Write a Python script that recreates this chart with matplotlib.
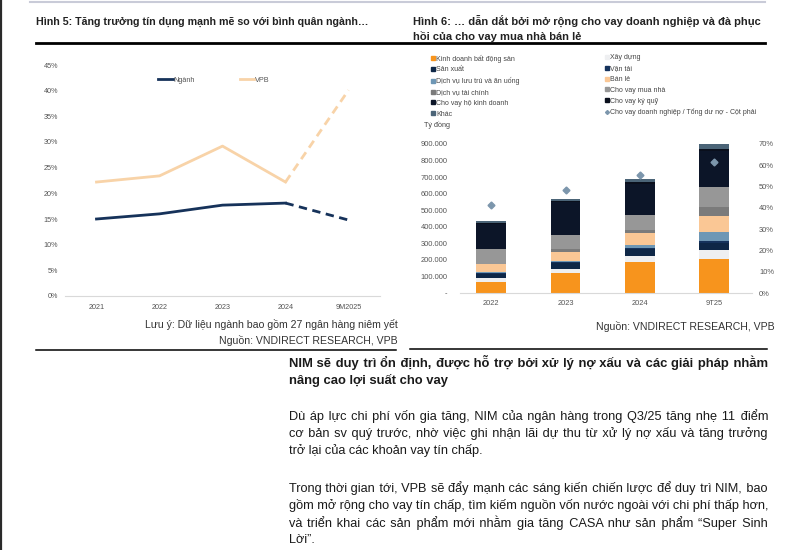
import numpy as np
import matplotlib
matplotlib.use("Agg")
import matplotlib.pyplot as plt
from matplotlib.lines import Line2D
from matplotlib.ticker import FuncFormatter

plt.rcParams['font.family'] = ['Liberation Sans', 'DejaVu Sans']

# ---- Hình 5 data (% tăng trưởng tín dụng)
years5 = ["2021", "2022", "2023", "2024", "9M2025"]
nganh = [15.0, 16.0, 17.7, 18.1, 14.8]
vpb = [22.2, 23.4, 29.2, 22.2, 40.1]

# ---- Hình 6 data (tỷ đồng)
years6 = ["2022", "2023", "2024", "9T25"]
seg_names = ["Kinh doanh bất động sản", "Xây dựng", "Sản xuất", "Vận tải",
             "Dịch vụ lưu trú và ăn uống", "Bán lẻ", "Dịch vụ tài chính",
             "Cho vay mua nhà", "Cho vay hộ kinh doanh", "Cho vay ký quỹ", "Khác"]
seg_vals = [
    [68000, 119000, 189000, 204000],   # Kinh doanh BĐS
    [20000, 28000, 36000, 56000],      # Xây dựng
    [28000, 32000, 40000, 44000],      # Sản xuất
    [6000, 8000, 8000, 10000],         # Vận tải
    [6000, 8000, 16000, 54000],        # Dịch vụ lưu trú và ăn uống
    [46000, 54000, 73000, 98000],      # Bán lẻ
    [4000, 18000, 16000, 54000],       # Dịch vụ tài chính
    [86000, 85000, 92000, 121000],     # Cho vay mua nhà
    [155000, 195000, 191000, 216000],  # Cho vay hộ kinh doanh
    [5000, 10000, 10000, 12000],       # Cho vay ký quỹ
    [9000, 12000, 20000, 28000],       # Khác
]
seg_colors = ["#F7941D", "#EEEFF1", "#0E2747", "#15325C", "#6E97B5", "#FAC795",
              "#7B7B7B", "#979797", "#0C1528", "#0A0F1C", "#4B6477"]
corp_share = [41.3, 48.2, 55.4, 61.7]

# ---- text block
heading = ["NIM sẽ duy trì ổn định, được hỗ trợ bởi xử lý nợ xấu và các giải pháp nhằm",
           "nâng cao lợi suất cho vay"]
para1 = ["Dù áp lực chi phí vốn gia tăng, NIM của ngân hàng trong Q3/25 tăng nhẹ 11 điểm",
         "cơ bản sv quý trước, nhờ việc ghi nhận lãi dự thu từ xử lý nợ xấu và tăng trưởng",
         "trở lại của các khoản vay tín chấp."]
para2 = ["Trong thời gian tới, VPB sẽ đẩy mạnh các sáng kiến chiến lược để duy trì NIM, bao",
         "gồm mở rộng cho vay tín chấp, tìm kiếm nguồn vốn nước ngoài với chi phí thấp hơn,",
         "và triển khai các sản phẩm mới nhằm gia tăng CASA như sản phẩm “Super Sinh",
         "Lời”."]

W, H = 791, 550
fig = plt.figure(figsize=(W / 100, H / 100), dpi=100)
fig.patch.set_facecolor("white")


def fx(px):
    return px / W


def fy(py):
    return 1 - py / H


# decorations: frame lines
fig.add_artist(Line2D([fx(1), fx(1)], [0, 1], color="#2a2a2a", lw=1.6))
fig.add_artist(Line2D([fx(30), fx(765)], [fy(2), fy(2)], color="#C9CBD8", lw=1.5))
fig.add_artist(Line2D([fx(36), fx(765)], [fy(43), fy(43)], color="black", lw=2.0))
fig.add_artist(Line2D([fx(36), fx(396)], [fy(350), fy(350)], color="black", lw=1.1))
fig.add_artist(Line2D([fx(410), fx(767)], [fy(349), fy(349)], color="black", lw=1.1))

# titles
fig.text(fx(36), fy(22), "Hình 5: Tăng trưởng tín dụng mạnh mẽ so với bình quân ngành…",
         fontsize=7.7, fontweight="bold", color="#222222", va="center", ha="left")
fig.text(fx(413), fy(21), "Hình 6: … dẫn dắt bởi mở rộng cho vay doanh nghiệp và đà phục",
         fontsize=8.0, fontweight="bold", color="#222222", va="center", ha="left")
fig.text(fx(413), fy(37), "hồi của cho vay mua nhà bán lẻ",
         fontsize=8.0, fontweight="bold", color="#222222", va="center", ha="left")

# ---------------- Left chart ----------------
ax1 = fig.add_axes([fx(65), fy(296), fx(380) - fx(65), fy(65) - fy(296)])
x5 = np.arange(len(years5))
c_ng = "#16325A"
c_vp = "#F8D3A8"
ax1.plot(x5[:4], nganh[:4], color=c_ng, lw=2.0, label="Ngành")
ax1.plot(x5[3:], nganh[3:], color=c_ng, lw=2.0, ls=(0, (3, 2)))
ax1.plot(x5[:4], vpb[:4], color=c_vp, lw=2.0, label="VPB")
ax1.plot(x5[3:], vpb[3:], color=c_vp, lw=2.0, ls=(0, (3, 2)))
ax1.set_xlim(-0.5, 4.5)
ax1.set_ylim(0, 45)
ax1.set_yticks(np.arange(0, 46, 5))
ax1.yaxis.set_major_formatter(FuncFormatter(lambda v, p: f"{v:.0f}%"))
ax1.set_xticks(x5)
ax1.set_xticklabels(years5)
for s in ["top", "right", "left"]:
    ax1.spines[s].set_visible(False)
ax1.spines["bottom"].set_color("#D9D9D9")
ax1.tick_params(axis="both", length=0, labelsize=5.2, colors="#555555")
ax1.tick_params(axis="y", pad=5)
ax1.tick_params(axis="x", pad=6)
ax1.legend(loc="center", bbox_to_anchor=(0.473, 0.935), ncol=2, frameon=False,
           fontsize=5.2, handlelength=2.0, handletextpad=0.1, columnspacing=6.2,
           labelcolor="#555555")

fig.text(fx(398), fy(325), "Lưu ý: Dữ liệu ngành bao gồm 27 ngân hàng niêm yết",
         fontsize=7.6, color="#333333", ha="right", va="center")
fig.text(fx(398), fy(340), "Nguồn: VNDIRECT RESEARCH, VPB",
         fontsize=7.6, color="#333333", ha="right", va="center")

# ---------------- Right chart ----------------
ax2 = fig.add_axes([fx(460), fy(293), fx(752) - fx(460), fy(144) - fy(293)])
x6 = np.arange(len(years6))
bottom = np.zeros(len(years6))
handles = []
for name, vals, col in zip(seg_names, seg_vals, seg_colors):
    ax2.bar(x6, vals, 0.4, bottom=bottom, color=col, label=name)
    bottom += np.array(vals)
    handles.append(Line2D([], [], ls="", marker="s", markersize=3.0, color=col, label=name))
ax2.set_xlim(-0.42, 3.51)
ax2.set_ylim(0, 900000)
ax2.set_yticks(np.arange(0, 900001, 100000))
ax2.yaxis.set_major_formatter(FuncFormatter(
    lambda v, p: "-" if v == 0 else f"{v:,.0f}".replace(",", ".")))
ax2.set_xticks(x6)
ax2.set_xticklabels(years6)
for s in ["top", "right", "left"]:
    ax2.spines[s].set_visible(False)
ax2.spines["bottom"].set_color("#D9D9D9")
ax2.tick_params(axis="both", length=0, labelsize=5.4, colors="#555555")
ax2.tick_params(axis="y", pad=9)
ax2.tick_params(axis="x", pad=5)

ax3 = ax2.twinx()
ax3.plot(x6, corp_share, ls="", marker="D", markersize=3.5, color="#7C96AC")
ax3.set_ylim(0, 70)
ax3.set_yticks(np.arange(0, 71, 10))
ax3.yaxis.set_major_formatter(FuncFormatter(lambda v, p: f"{v:.0f}%"))
for s in ["top", "right", "left", "bottom"]:
    ax3.spines[s].set_visible(False)
ax3.tick_params(axis="y", length=0, labelsize=5.4, colors="#555555", pad=5)

share_handle = Line2D([], [], ls="", marker="D", markersize=2.0, color="#7C96AC",
                      label="Cho vay doanh nghiệp / Tổng dư nợ - Cột phải")
col1 = [handles[i] for i in (0, 2, 4, 6, 8, 10)]
col2 = [handles[i] for i in (1, 3, 5, 7, 9)] + [share_handle]
leg_kw = dict(frameon=False, fontsize=5.0, handlelength=0.6, handletextpad=0.2,
              labelspacing=0.55, borderpad=0, labelcolor="#444444")
fig.legend(handles=col1, loc="upper left", bbox_to_anchor=(fx(427), fy(51)), **leg_kw)
fig.legend(handles=col2, loc="upper left", bbox_to_anchor=(fx(601), fy(51)), **leg_kw)

fig.text(fx(424), fy(125), "Tỷ đồng", fontsize=5.2, color="#444444", ha="left", va="center")
fig.text(fx(775), fy(326), "Nguồn: VNDIRECT RESEARCH, VPB",
         fontsize=7.6, color="#333333", ha="right", va="center")

# ---------------- Text block (justified with hair spaces) ----------------
renderer = fig.canvas.get_renderer()
x_left, x_right = 289, 768
HAIR = "\u200a"


def text_w(t, s):
    t.set_text(s)
    return t.get_window_extent(renderer).width


def put_line(line, ypx, size, weight, justify):
    t = fig.text(fx(x_left), fy(ypx), line, fontsize=size, fontweight=weight,
                 color="#1a1a1a", ha="left", va="center")
    if not justify:
        return
    w0 = text_w(t, line)
    hs = (text_w(t, "x" + HAIR * 20 + "x") - text_w(t, "xx")) / 20
    words = line.split(" ")
    gaps = len(words) - 1
    n_extra = int(round((x_right - x_left - w0) / hs)) if hs > 0 else 0
    if n_extra <= 0:
        t.set_text(line)
        return
    out = words[0]
    for k in range(gaps):
        add = n_extra * (k + 1) // gaps - n_extra * k // gaps
        out += " " + HAIR * add + words[k + 1]
    t.set_text(out)


for i, line in enumerate(heading):
    put_line(line, 362 + 18 * i, 9.4, "bold", i < len(heading) - 1)
for i, line in enumerate(para1):
    put_line(line, 416 + 17.3 * i, 9.2, "normal", i < len(para1) - 1)
for i, line in enumerate(para2):
    put_line(line, 488 + 17.2 * i, 9.2, "normal", i < len(para2) - 1)

fig.savefig("out.png", dpi=100, facecolor="white")
